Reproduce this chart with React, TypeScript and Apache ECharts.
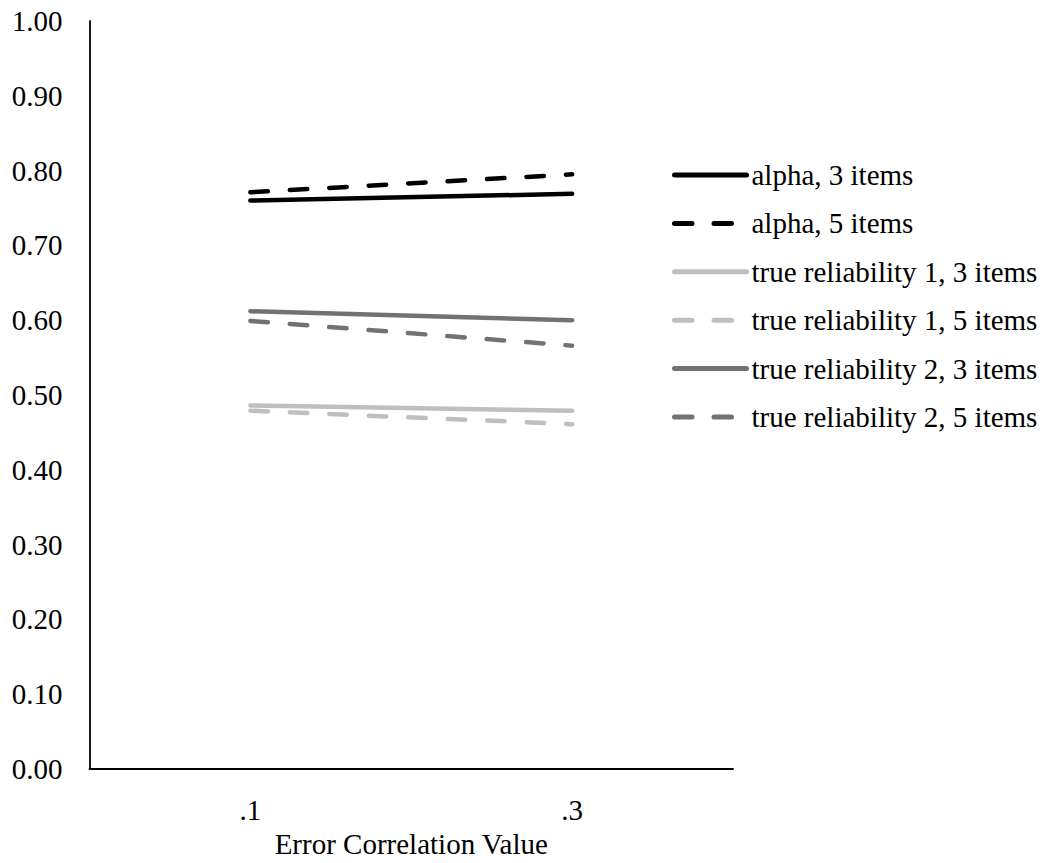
import React, { useEffect, useRef } from "react";
import * as echarts from "echarts";

const categories = [".1", ".3"];
const seriesNames = [
  "alpha, 3 items",
  "alpha, 5 items",
  "true reliability 1, 3 items",
  "true reliability 1, 5 items",
  "true reliability 2, 3 items",
  "true reliability 2, 5 items",
];
const alpha3 = [0.76, 0.769];
const alpha5 = [0.771, 0.795];
const trueRel1Items3 = [0.486, 0.479];
const trueRel1Items5 = [0.479, 0.461];
const trueRel2Items3 = [0.612, 0.6];
const trueRel2Items5 = [0.599, 0.566];
const yTicks = [0, 0.1, 0.2, 0.3, 0.4, 0.5, 0.6, 0.7, 0.8, 0.9, 1.0];

const seriesData = [alpha3, alpha5, trueRel1Items3, trueRel1Items5, trueRel2Items3, trueRel2Items5];
const seriesColors = ["#000000", "#000000", "#BFBFBF", "#BFBFBF", "#767171", "#767171"];
const seriesDashed = [false, true, false, true, false, true];

const FONT = "'Liberation Serif', 'Times New Roman', serif";
const FS = 29;

export default function App() {
  const ref = useRef<HTMLDivElement>(null);
  useEffect(() => {
    if (!ref.current) return;
    const chart = echarts.init(ref.current, undefined, { renderer: "svg" });
    chart.setOption({
      animation: false,
      backgroundColor: "#ffffff",
      textStyle: { fontFamily: FONT },
      grid: { left: 89.5, top: 21, right: 1045 - 733, bottom: 863 - 769.5, containLabel: false },
      legend: {
        orient: "vertical",
        left: 667,
        top: 155.5,
        itemWidth: 72,
        itemHeight: 14,
        itemGap: 19.4,
        data: seriesNames,
        itemStyle: { opacity: 0 },
        lineStyle: { width: 5, cap: "round" },
        textStyle: { fontFamily: FONT, fontSize: FS, color: "#000" },
      },
      xAxis: {
        type: "category",
        data: categories,
        boundaryGap: true,
        axisLine: { lineStyle: { color: "#000", width: 1.8 } },
        axisTick: { show: false },
        axisLabel: { fontFamily: FONT, fontSize: FS, color: "#000", margin: 26 },
        name: "Error Correlation Value",
        nameLocation: "middle",
        nameGap: 60,
        nameTextStyle: { fontFamily: FONT, fontSize: FS, color: "#000" },
        splitLine: { show: false },
      },
      yAxis: {
        type: "value",
        min: yTicks[0],
        max: yTicks[yTicks.length - 1],
        interval: 0.1,
        axisLine: { show: true, lineStyle: { color: "#000", width: 1.8 } },
        axisTick: { show: false },
        splitLine: { show: false },
        axisLabel: {
          fontFamily: FONT,
          fontSize: FS,
          color: "#000",
          margin: 27,
          formatter: (v: number) => v.toFixed(2),
        },
      },
      series: seriesNames.map((name, i) => ({
        name,
        type: "line",
        data: seriesData[i],
        symbol: "none",
        showSymbol: false,
        color: seriesColors[i],
        lineStyle: {
          color: seriesColors[i],
          width: 4.5,
          type: seriesDashed[i] ? [17.5, 22] : "solid",
          cap: "round",
        },
      })),
    });
    return () => chart.dispose();
  }, []);
  return (
    <div
      ref={ref}
      style={{ position: "absolute", left: 0, top: 0, width: 1045, height: 863 }}
    />
  );
}
